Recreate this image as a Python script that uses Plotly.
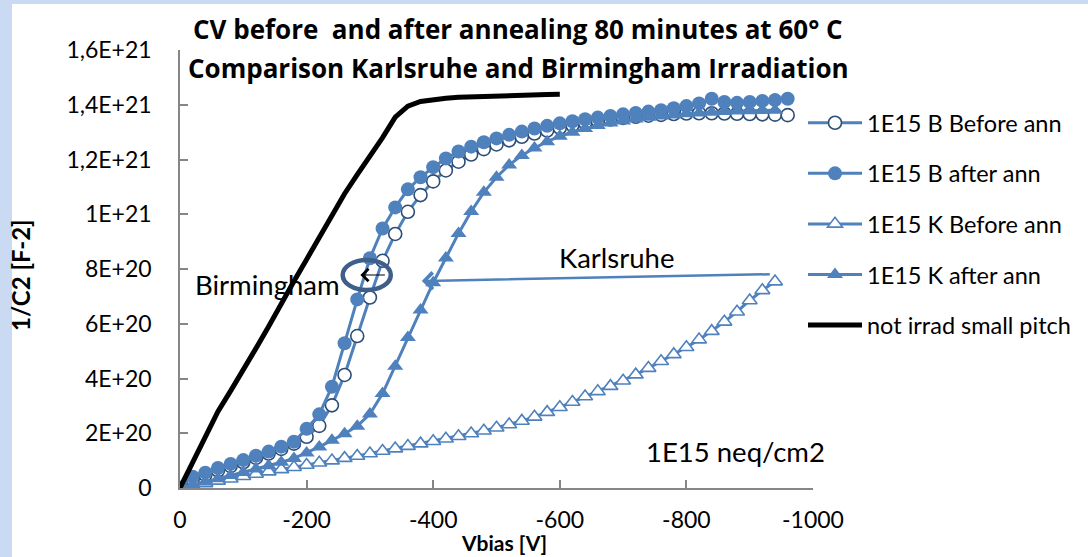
import plotly.graph_objects as go

# Bias sweep (V), 20 V steps
bias_v = [0, -20, -40, -60, -80, -100, -120, -140, -160, -180, -200, -220, -240,
          -260, -280, -300, -320, -340, -360, -380, -400, -420, -440, -460, -480,
          -500, -520, -540, -560, -580, -600, -620, -640, -660, -680, -700, -720,
          -740, -760, -780, -800, -820, -840, -860, -880, -900, -920, -940, -960]

# 1/C^2 values in units of 1e20 F^-2
b_before = [0, 0.3, 0.48, 0.64, 0.8, 0.94, 1.1, 1.26, 1.43, 1.62, 1.87, 2.27, 3.02,
            4.13, 5.55, 6.96, 8.3, 9.28, 10.09, 10.7, 11.2, 11.6, 11.92, 12.18, 12.38,
            12.55, 12.7, 12.83, 12.95, 13.06, 13.16, 13.25, 13.33, 13.4, 13.46, 13.52,
            13.56, 13.6, 13.63, 13.66, 13.68, 13.69, 13.69, 13.68, 13.67, 13.66, 13.65,
            13.64, 13.62]
b_after = [0, 0.41, 0.56, 0.73, 0.88, 1.02, 1.18, 1.33, 1.51, 1.69, 2.16, 2.69, 3.7,
           5.29, 6.89, 8.39, 9.48, 10.25, 10.91, 11.35, 11.72, 12.04, 12.29, 12.47,
           12.63, 12.77, 12.9, 13.02, 13.13, 13.23, 13.32, 13.4, 13.47, 13.53, 13.59,
           13.65, 13.7, 13.75, 13.8, 13.87, 13.95, 14.05, 14.22, 14.1, 14.07, 14.1,
           14.14, 14.17, 14.22]
k_before = [0, 0.08, 0.17, 0.26, 0.34, 0.43, 0.51, 0.6, 0.68, 0.76, 0.84, 0.92, 1.0,
            1.09, 1.17, 1.26, 1.35, 1.44, 1.53, 1.62, 1.71, 1.8, 1.89, 1.99, 2.09, 2.2,
            2.32, 2.45, 2.6, 2.77, 2.95, 3.14, 3.34, 3.53, 3.72, 3.92, 4.14, 4.38, 4.63,
            4.88, 5.14, 5.42, 5.73, 6.07, 6.44, 6.85, 7.22, 7.54]
k_after = [0, 0.1, 0.22, 0.34, 0.46, 0.57, 0.69, 0.81, 0.94, 1.08, 1.28, 1.5, 1.74,
           1.98, 2.26, 2.7, 3.45, 4.45, 5.5, 6.5, 7.5, 8.4, 9.3, 10.1, 10.8, 11.35, 11.8,
           12.15, 12.42, 12.65, 12.85, 13.0, 13.13, 13.24, 13.33, 13.41, 13.48, 13.54,
           13.59, 13.63, 13.67, 13.7, 13.73, 13.75, 13.77, 13.78, 13.79, 13.8]
not_irrad = [0, 0.95, 1.9, 2.8, 3.55, 4.3, 5.1, 5.9, 6.75, 7.55, 8.35, 9.15, 9.95,
             10.75, 11.45, 12.1, 12.8, 13.55, 13.95, 14.12, 14.2, 14.24, 14.27, 14.29,
             14.31, 14.32, 14.33, 14.35, 14.36, 14.37, 14.38]

UNIT = 1e20

x_tickvals = [0, -200, -400, -600, -800, -1000]
x_ticktext = ["0", "-200", "-400", "-600", "-800", "-1000"]
y_tickvals = [0, 2e20, 4e20, 6e20, 8e20, 1e21, 1.2e21, 1.4e21, 1.6e21]
y_ticktext = ["0", "2E+20", "4E+20", "6E+20", "8E+20", "1E+21", "1,2E+21", "1,4E+21", "1,6E+21"]

BLUE = "#4F81BD"
NAVY = "#2C4D75"
FONT = "Lato"
TITLE_FONT = "Open Sans"


def scaled(vals):
    return [v * UNIT for v in vals]


fig = go.Figure()

fig.add_trace(go.Scatter(
    x=bias_v[:len(b_before)], y=scaled(b_before), name="1E15 B Before ann",
    mode="lines+markers", line=dict(color=BLUE, width=3),
    marker=dict(symbol="circle", size=13, color="white", line=dict(color=NAVY, width=1.6)),
    legendgroup="a"))
fig.add_trace(go.Scatter(
    x=bias_v[:len(b_after)], y=scaled(b_after), name="1E15 B after ann",
    mode="lines+markers", line=dict(color=BLUE, width=3),
    marker=dict(symbol="circle", size=14, color=BLUE, line=dict(color=BLUE, width=0)),
    legendgroup="b"))
fig.add_trace(go.Scatter(
    x=bias_v[:len(k_before)], y=scaled(k_before), name="1E15 K Before ann",
    mode="lines+markers", line=dict(color=BLUE, width=3),
    marker=dict(symbol="triangle-up", size=13, color="white", line=dict(color=BLUE, width=1.6)),
    legendgroup="c"))
fig.add_trace(go.Scatter(
    x=bias_v[:len(k_after)], y=scaled(k_after), name="1E15 K after ann",
    mode="lines+markers", line=dict(color=BLUE, width=3),
    marker=dict(symbol="triangle-up", size=14, color=BLUE, line=dict(color=BLUE, width=0)),
    legendgroup="d"))
fig.add_trace(go.Scatter(
    x=bias_v[:len(not_irrad)], y=scaled(not_irrad), name="not irrad small pitch",
    mode="lines", line=dict(color="black", width=5),
    legendgroup="e"))

# figure geometry (px)
W, H = 1088, 557
L, R, T, B = 180, 813, 50, 488
pw, ph = R - L, B - T


def px(xp):
    return (xp - L) / pw


def py(yp):
    return (B - yp) / ph


annotations = [
    dict(text="<b>CV before  and after annealing 80 minutes at 60° C</b>",
         xref="paper", yref="paper", x=px(518), y=py(29), showarrow=False,
         font=dict(family=TITLE_FONT, size=26, color="black"), xanchor="center", yanchor="middle"),
    dict(text="<b>Comparison Karlsruhe and Birmingham Irradiation</b>",
         xref="paper", yref="paper", x=px(518), y=py(68), showarrow=False,
         font=dict(family=TITLE_FONT, size=26, color="black"), xanchor="center", yanchor="middle"),
    dict(text="<b>1/C2 [F-2]</b>", xref="paper", yref="paper", x=px(20), y=py(275),
         textangle=-90, showarrow=False, font=dict(family=FONT, size=24, color="black"),
         xanchor="center", yanchor="middle"),
    dict(text="<b>Vbias [V]</b>", xref="paper", yref="paper", x=px(504), y=py(542),
         showarrow=False, font=dict(family=FONT, size=21, color="black"),
         xanchor="center", yanchor="middle", borderpad=0),
    dict(text="Birmingham", x=-139, y=7.45e20, showarrow=False,
         font=dict(family=FONT, size=27.5, color="black")),
    dict(text="Karlsruhe", x=-690, y=8.42e20, showarrow=False,
         font=dict(family=FONT, size=27.5, color="black")),
    dict(text="1E15 neq/cm2", x=-878, y=1.33e20, showarrow=False,
         font=dict(family=FONT, size=27.5, color="black")),
    # arrow pointing at the Karlsruhe curves
    dict(text="", x=-382, y=7.56e20, ax=-934, ay=7.81e20, axref="x", ayref="y",
         showarrow=True, arrowhead=4, arrowsize=1.3, arrowwidth=2.5, arrowcolor=BLUE,
         standoff=0, startstandoff=0),
    # small arrow inside the Birmingham marker ring
    dict(text="", x=-285, y=7.78e20, ax=-326, ay=7.78e20, axref="x", ayref="y",
         showarrow=True, arrowhead=4, arrowsize=2, arrowwidth=1.2, arrowcolor="black",
         standoff=0, startstandoff=0),
]

shapes = [
    # white chart area over the light-blue frame
    dict(type="rect", xref="paper", yref="paper", x0=px(12), x1=px(W + 5),
         y0=py(H + 5), y1=py(4), fillcolor="white", line=dict(width=0), layer="below"),
    # ring around the Birmingham curves
    dict(type="circle", xref="x", yref="y", x0=-257, x1=-333, y0=7.23e20, y1=8.33e20,
         line=dict(color="#3F5E8A", width=4.5)),
]

axis_font = dict(family=FONT, size=23, color="black")

fig.update_layout(
    width=W, height=H,
    margin=dict(l=L, r=W - R, t=T, b=H - B),
    paper_bgcolor="#C9DAF2",
    plot_bgcolor="rgba(0,0,0,0)",
    showlegend=True,
    legend=dict(x=px(803), y=py(101), xanchor="left", yanchor="top",
                font=dict(family=FONT, size=23.5, color="black"),
                bgcolor="rgba(0,0,0,0)", itemwidth=54, tracegroupgap=17,
                traceorder="grouped"),
    annotations=annotations,
    shapes=shapes,
    xaxis=dict(range=[0, -1000], tickvals=x_tickvals, ticktext=x_ticktext,
               showgrid=False, zeroline=False, showline=True, linecolor="#868686",
               linewidth=1.5, ticks="inside", ticklen=8, tickwidth=1.5,
               tickcolor="#868686", tickfont=axis_font, ticklabelstandoff=11),
    yaxis=dict(range=[0, 1.6e21], tickvals=y_tickvals, ticktext=y_ticktext,
               showgrid=False, zeroline=False, showline=True, linecolor="#868686",
               linewidth=1.5, ticks="inside", ticklen=8, tickwidth=1.5,
               tickcolor="#868686", tickfont=axis_font, ticklabelstandoff=22),
)

fig.write_html("out.html")
